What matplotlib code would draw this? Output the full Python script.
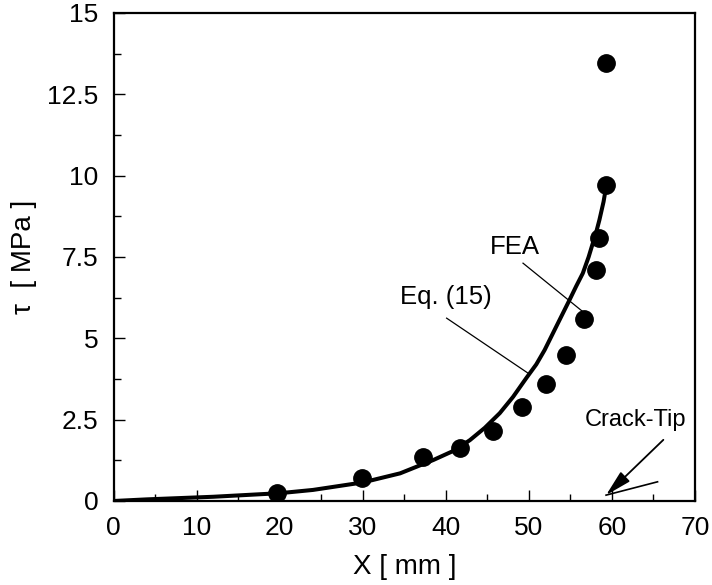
import matplotlib
matplotlib.use("Agg")
import matplotlib.pyplot as plt
from matplotlib.ticker import MultipleLocator

plt.rcParams["font.family"] = ["Liberation Sans", "DejaVu Sans"]

# FEA results
fea_x = [19.7, 29.9, 37.3, 41.7, 45.7, 49.2, 52.1, 54.5, 56.6, 58.1, 58.5, 59.3, 59.3]
fea_y = [0.24, 0.72, 1.36, 1.64, 2.16, 2.9, 3.6, 4.49, 5.6, 7.1, 8.07, 9.72, 13.45]

# Eq. (15) curve
eq_x = [0, 4, 12, 20, 24, 30, 34.5, 38.5, 41.0, 42.9, 44.7, 46.5, 48.1, 49.7, 50.9, 51.9,
        53.3, 54.9, 55.7, 56.5, 57.2, 57.7, 58.1, 58.5, 59.0, 59.3]
eq_y = [0, 0.05, 0.13, 0.24, 0.34, 0.57, 0.85, 1.26, 1.55, 1.87, 2.25, 2.70, 3.2, 3.78, 4.2, 4.64,
        5.36, 6.18, 6.6, 7.0, 7.5, 7.92, 8.25, 8.64, 9.2, 9.65]

fig = plt.figure(figsize=(7.12, 5.85), dpi=100)
ax = fig.add_axes([0.1596, 0.1436, 0.8164, 0.8342])

ax.plot(eq_x, eq_y, color="black", lw=2.9, solid_capstyle="round",
        solid_joinstyle="round", zorder=2)
ax.plot(fea_x, fea_y, "o", color="black", ms=12.5, zorder=3)

ax.set_xlim(0, 70)
ax.set_ylim(0, 15)
ax.xaxis.set_major_locator(MultipleLocator(10))
ax.xaxis.set_minor_locator(MultipleLocator(5))
ax.yaxis.set_minor_locator(MultipleLocator(1.25))
ax.set_yticks([0, 2.5, 5, 7.5, 10, 12.5, 15])
ax.set_yticklabels(["0", "2.5", "5", "7.5", "10", "12.5", "15"])
ax.tick_params(which="major", direction="in", length=8, width=1, labelsize=19)
ax.tick_params(which="minor", direction="in", length=5, width=1)
ax.tick_params(axis="x", pad=11)
ax.tick_params(axis="y", pad=11)
for s in ax.spines.values():
    s.set_linewidth(1.6)

ax.set_xlabel("X [ mm ]", fontsize=20, labelpad=10)
ax.set_ylabel("τ  [ MPa ]", fontsize=20, labelpad=7)

# labels and leader lines
ax.text(48.3, 7.81, "FEA", fontsize=18.5, ha="center", va="center")
ax.plot([49.3, 56.5], [7.31, 5.82], color="black", lw=0.9)
ax.text(40.0, 6.26, "Eq. (15)", fontsize=18.5, ha="center", va="center")
ax.plot([40.1, 49.9], [5.62, 3.93], color="black", lw=0.9)

ax.text(62.8, 2.5, "Crack-Tip", fontsize=17, ha="center", va="center")
ax.annotate("", xy=(59.3, 0.18), xytext=(66.2, 1.88),
            arrowprops=dict(arrowstyle="-|>,head_length=0.8,head_width=0.2",
                            color="black", lw=1.3, mutation_scale=20,
                            shrinkA=0, shrinkB=0))
ax.plot([59.3, 65.5], [0.18, 0.59], color="black", lw=1.2)

fig.savefig("out.png", dpi=100)
